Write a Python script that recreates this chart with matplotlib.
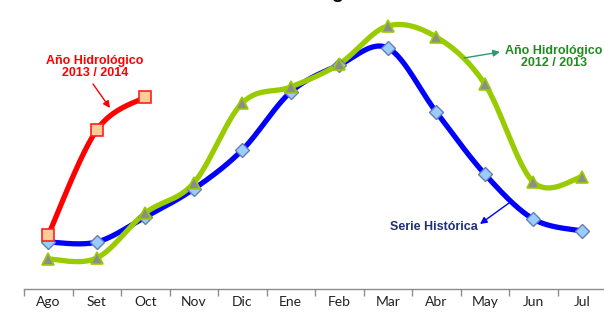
import numpy as np
import matplotlib
matplotlib.use("Agg")
import matplotlib.pyplot as plt

months = ["Ago", "Set", "Oct", "Nov", "Dic", "Ene", "Feb", "Mar", "Abr", "May", "Jun", "Jul"]
serie_historica = [48, 48, 73, 101, 140, 198, 225, 242, 178, 116, 71, 59]
anio_2012_2013 = [31, 32, 77, 107, 187, 203, 226, 264, 253, 206, 108, 113]
anio_2013_2014 = [55, 160, 193]

W, H = 604, 313


def smooth(xs, ys, n=30):
    xs = np.asarray(xs, float)
    ys = np.asarray(ys, float)
    px = np.concatenate([[xs[0]], xs, [xs[-1]]])
    py = np.concatenate([[ys[0]], ys, [ys[-1]]])
    ox, oy = [], []
    t = np.linspace(0, 1, n)
    for i in range(1, len(px) - 2):
        p0x, p1x, p2x, p3x = px[i - 1], px[i], px[i + 1], px[i + 2]
        p0y, p1y, p2y, p3y = py[i - 1], py[i], py[i + 1], py[i + 2]
        c1x, c1y = p1x + (p2x - p0x) / 6, p1y + (p2y - p0y) / 6
        c2x, c2y = p2x - (p3x - p1x) / 6, p2y - (p3y - p1y) / 6
        bx = (1 - t) ** 3 * p1x + 3 * (1 - t) ** 2 * t * c1x + 3 * (1 - t) * t ** 2 * c2x + t ** 3 * p2x
        by = (1 - t) ** 3 * p1y + 3 * (1 - t) ** 2 * t * c1y + 3 * (1 - t) * t ** 2 * c2y + t ** 3 * p2y
        ox.extend(bx)
        oy.extend(by)
    return np.array(ox), np.array(oy)


fig = plt.figure(figsize=(W / 100, H / 100), dpi=100)
ax = fig.add_axes([24 / W, 24 / H, 582 / W, 289 / H])
ax.set_xlim(-0.5, 11.5)
ax.set_ylim(1, 290)

x_all = np.arange(len(months))

# Serie histórica
sx, sy = smooth(x_all, serie_historica)
ax.plot(sx, sy, color="#0000ff", lw=3.8, solid_capstyle="round", zorder=2)
ax.plot(x_all, serie_historica, ls="none", marker="D", ms=7, mfc="#99ccff",
        mec="#6a7cb0", mew=1.0, zorder=5)

# 2012/2013
gx, gy = smooth(x_all, anio_2012_2013)
ax.plot(gx, gy, color="#99cc00", lw=3.8, solid_capstyle="round", zorder=3)
ax.plot(x_all, anio_2012_2013, ls="none", marker="^", ms=8.5, mfc="#8c8c8c",
        mec="#99cc00", mew=1.2, zorder=6)

# 2013/2014
x_r = np.arange(len(anio_2013_2014))
rx, ry = smooth(x_r, anio_2013_2014)
ax.plot(rx, ry, color="#ff0000", lw=3.8, solid_capstyle="round", zorder=4)
ax.plot(x_r, anio_2013_2014, ls="none", marker="s", ms=8, mfc="#ffcc99",
        mec="#ff2020", mew=1.2, zorder=7)

# axes styling
for s in ["top", "left", "right"]:
    ax.spines[s].set_visible(False)
ax.spines["bottom"].set_color("#8c8c8c")
ax.spines["bottom"].set_linewidth(1.0)
ax.set_yticks([])
ax.set_xticks(np.arange(-0.5, 11.5, 1.0))
ax.set_xticklabels([])
ax.set_xticks(x_all, minor=True)
ax.set_xticklabels(months, minor=True, fontsize=10, family="Lato", color="#222222")
ax.tick_params(axis="x", which="major", direction="out", length=5, color="#8c8c8c", width=1.0)
ax.tick_params(axis="x", which="minor", length=0, pad=5)


def px2data(x, y):
    return ((x - 24) / 48.5 - 0.5, 289 - y)


arrow_kw = dict(lw=1.0, mutation_scale=10, shrinkA=0, shrinkB=0)

# Annotations
tx, ty = px2data(95, 66)
ax.text(tx, ty, "Año Hidrológico\n2013 / 2014", color="#ff0000", fontsize=9,
        fontweight="bold", family="Liberation Sans", ha="center", va="center",
        linespacing=1.05)
ax.annotate("", xy=px2data(110, 107), xytext=px2data(93, 83),
            arrowprops=dict(arrowstyle="-|>", color="#ff0000", **arrow_kw))

tx, ty = px2data(554, 56)
ax.text(tx, ty, "Año Hidrológico\n2012 / 2013", color="#1e8c1e", fontsize=9,
        fontweight="bold", family="Liberation Sans", ha="center", va="center",
        linespacing=1.05)
ax.annotate("", xy=px2data(500, 51), xytext=px2data(464, 57),
            arrowprops=dict(arrowstyle="-|>", color="#2e9970", **arrow_kw))

tx, ty = px2data(434, 226)
ax.text(tx, ty, "Serie Histórica", color="#1f3073", fontsize=9,
        fontweight="bold", family="Liberation Sans", ha="center", va="center")
ax.annotate("", xy=px2data(480, 223), xytext=px2data(509, 202),
            arrowprops=dict(arrowstyle="-|>", color="#0000ff", **arrow_kw))

# clipped title remnant (the reference shows only the descender of the title)
fig.text(337 / W, 1 + 2.0 / H, "g", fontsize=14, fontweight="bold",
         family="Liberation Sans", ha="center", va="baseline", color="black")

fig.savefig("out.png", dpi=100)
